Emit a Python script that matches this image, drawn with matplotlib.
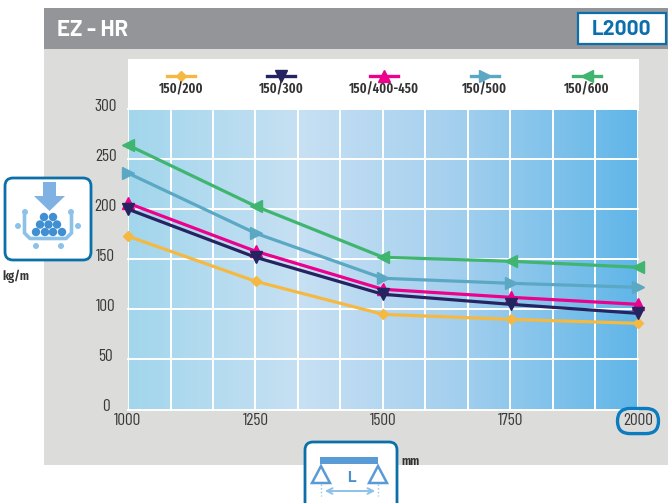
import matplotlib
matplotlib.use("Agg")
import matplotlib.pyplot as plt
import numpy as np
from matplotlib.colors import LinearSegmentedColormap
from matplotlib.patches import FancyBboxPatch, Rectangle, Polygon, Circle
from matplotlib.lines import Line2D
from matplotlib.transforms import ScaledTranslation
from matplotlib import font_manager as fm

names = {f.name for f in fm.fontManager.ttflist}
def pick(options, default):
    for o in options:
        if o in names:
            return o
    return default
NARROW = pick(['Barlow Condensed', 'Roboto Condensed', 'Asap Condensed'], 'DejaVu Sans')
XNARROW = pick(['Fira Sans Extra Condensed', 'Saira Extra Condensed', 'Pathway Gothic One',
                'Barlow Condensed', 'Roboto Condensed'], 'DejaVu Sans')
WIDE = pick(['Barlow', 'Lato'], 'Liberation Sans')
nkw = dict(family=NARROW) if NARROW != 'DejaVu Sans' else dict(family=NARROW, stretch='condensed')
xkw = dict(family=XNARROW) if XNARROW != 'DejaVu Sans' else dict(family=XNARROW, stretch='condensed')

spans = [1000, 1250, 1500, 1750, 2000]
series_labels = ['150/200', '150/300', '150/400-450', '150/500', '150/600']
v_200 = [173, 128, 95, 90, 86]
v_300 = [200, 152, 115, 105, 96]
v_400 = [206, 158, 120, 112, 105]
v_500 = [236, 176, 131, 126, 122]
v_600 = [264, 203, 152, 148, 142]
series_values = [v_200, v_300, v_400, v_500, v_600]
colors = ['#f5b942', '#252461', '#ec008c', '#5ba8c4', '#3fb56f']
markers = ['D', 'v', '^', '>', '<']
msizes = [5.2, 8, 8, 8, 8]
zorders = [3, 5, 4, 3, 3]
yticks = [0, 50, 100, 150, 200, 250, 300]
title = 'EZ - HR'
badge = 'L2000'

W, H = 668, 503
fig = plt.figure(figsize=(W/100, H/100), dpi=100, facecolor='white')

bg = fig.add_axes([0, 0, 1, 1], zorder=0)
bg.set_xlim(0, W); bg.set_ylim(H, 0); bg.axis('off')
bg.add_patch(Rectangle((44, 8), W-44, 457, fc='#dcdcdb', ec='none'))
bg.add_patch(Rectangle((44, 8), W-44, 41, fc='#939598', ec='none'))
bg.add_patch(Rectangle((128, 59), 511, 52, fc='white', ec='none'))
bg.text(57, 30, title, color='white', fontsize=16, fontweight='bold',
        family=WIDE, va='center', ha='left')
bg.add_patch(Rectangle((578, 13), 88, 31, fc='white', ec='#0b6fae', lw=1.6))
bg.text(622, 29, badge, color='#0b6fae', fontsize=15, fontweight='bold',
        family=WIDE, va='center', ha='center')

x0, x1, y_top, y_bot = 128, 638, 109, 409.5
ax = fig.add_axes([x0/W, 1-y_bot/H, (x1-x0)/W, (y_bot-y_top)/H], zorder=1)
ax.set_xlim(1000, 2000); ax.set_ylim(0, 300)
cmap = LinearSegmentedColormap.from_list('g', [(0, '#a2d6ec'), (0.34, '#c7e0f3'),
                                               (0.65, '#a3cfee'), (1, '#60b6e8')])
ax.imshow(np.linspace(0, 1, 256).reshape(1, -1), cmap=cmap, aspect='auto',
          extent=(1000, 2000, 0, 300), zorder=0)
for v in np.arange(1000, 2001, 1000/12):
    ax.axvline(v, color='white', lw=1.4, zorder=1)
for v in yticks:
    ax.axhline(v, color='white', lw=1.4, zorder=1, clip_on=False)
for s in ax.spines.values():
    s.set_visible(False)
for vals, c, m, ms, z in zip(series_values, colors, markers, msizes, zorders):
    ax.plot(spans, vals, color=c, lw=2.3, marker=m, ms=ms, mec=c, clip_on=False, zorder=z)
ax.set_xticks(spans); ax.set_yticks(yticks)
ax.tick_params(length=0, labelsize=12.5, labelcolor='#3a3a3a')
ax.tick_params(axis='x', pad=2.5)
ax.tick_params(axis='y', pad=16)
for l in ax.get_xticklabels() + ax.get_yticklabels():
    l.set(**nkw)
for l in ax.get_yticklabels():
    l.set_ha('center')
    l.set_transform(l.get_transform() + ScaledTranslation(0, 3.2/72, fig.dpi_scale_trans))

top = fig.add_axes([0, 0, 1, 1], zorder=2)
top.set_xlim(0, W); top.set_ylim(H, 0); top.axis('off'); top.patch.set_alpha(0)

leg_x = [181, 281, 384, 485, 587]
for x, lab, c, m, ms in zip(leg_x, series_labels, colors, markers, msizes):
    top.add_line(Line2D([x-14, x+14], [75.5, 75.5], color=c, lw=2.4))
    top.add_line(Line2D([x], [75.5], color=c, marker=m, ms=ms, mec=c))
    top.text(x, 89, lab, fontsize=10, fontweight='semibold', color='#333333',
             ha='center', va='center', **xkw)

top.add_patch(FancyBboxPatch((630, 421), 16, 0.1, boxstyle='round,pad=12.5,rounding_size=12.5',
                             fc='none', ec='#0b7cbd', lw=2.4))

BLUE = '#0b6fa8'; L1 = '#7fb2e3'; L2 = '#3f8fd2'; L3 = '#8cc2ea'
top.add_patch(FancyBboxPatch((12, 185), 72, 68, boxstyle='round,pad=7,rounding_size=8',
                             fc='white', ec=BLUE, lw=2))
top.add_patch(Polygon([(43, 182), (56, 182), (56, 196), (65, 196), (49.5, 211), (34, 196), (43, 196)],
                      fc=L1, ec='none'))
for cx, cy in [(44, 217), (53, 217), (40, 224.5), (48.5, 224.5), (57, 224.5),
               (36, 232), (45, 232), (53, 232), (62, 232)]:
    top.add_patch(Circle((cx, cy), 4.2, fc=L2, ec='none'))
top.add_line(Line2D([24.5, 24.5, 30, 66, 71.5, 71.5], [216, 233, 238.5, 238.5, 233, 216], color=L3, lw=2.6))
for cx, cy in [(25, 212), (71, 212), (18, 226), (78, 226), (36, 246), (61, 246)]:
    top.add_patch(Circle((cx, cy), 3, fc=L3, ec='none'))
top.text(16, 276, 'kg/m', fontsize=9.5, fontweight='semibold', color='#333333',
         ha='center', va='center', **xkw)

top.add_patch(FancyBboxPatch((312, 449), 78, 80, boxstyle='round,pad=7,rounding_size=8',
                             fc='white', ec=BLUE, lw=2))
top.add_patch(Rectangle((320, 457), 58, 7, fc='#5a9bd5', ec='none'))
for cx in (321, 378):
    top.add_patch(Polygon([(cx-9, 483), (cx+9, 483), (cx, 466)], fc='none', ec='#5a9bd5', lw=1.8))
    top.add_line(Line2D([cx, cx], [484, 496], color=L3, lw=1, ls=':'))
top.text(351, 478, 'L', color='#4a8fce', fontsize=11, fontweight='bold',
         family=WIDE, ha='center', va='center')
top.annotate('', xy=(322, 491), xytext=(378, 491),
             arrowprops=dict(arrowstyle='<->', color=L3, lw=1.4))
top.text(411, 461, 'mm', fontsize=9.5, fontweight='semibold', color='#333333',
         ha='center', va='center', **xkw)

fig.savefig('out.png', dpi=100)
